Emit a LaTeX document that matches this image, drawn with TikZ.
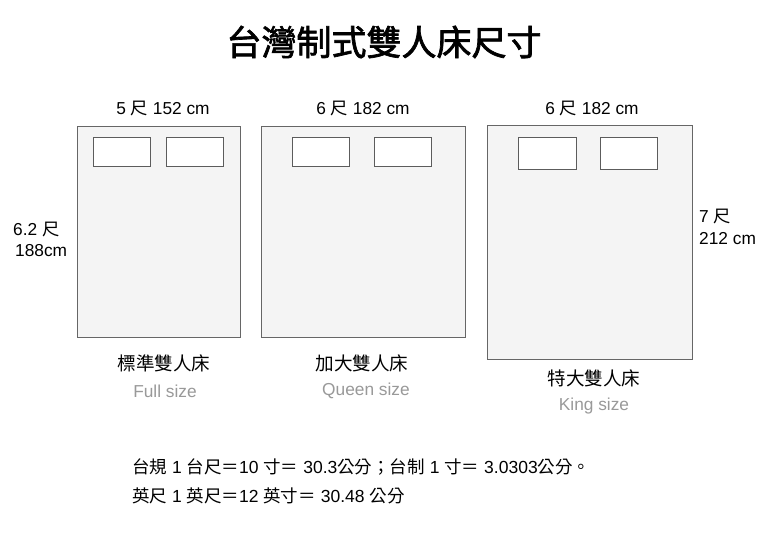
\documentclass[tikz,border=0pt]{standalone}
\usepackage{fontspec}
\setmainfont{Liberation Sans}
\newfontfamily\cjk{Noto Sans CJK TC}
\newfontfamily\cjkbold{Noto Sans CJK TC}[FakeBold=2]
\definecolor{bedfill}{HTML}{F4F4F4}
\definecolor{bedline}{HTML}{666666}
\definecolor{subgray}{HTML}{999999}
\begin{document}
\begin{tikzpicture}[x=1pt,y=-1pt,
  bed/.style={draw=bedline,fill=bedfill,line width=1pt},
  pillow/.style={draw=bedline!90!black,fill=white,line width=1pt},
  lab/.style={font=\fontsize{17.3}{19}\selectfont,inner sep=0pt},
  bedname/.style={font=\fontsize{18.6}{20}\selectfont\cjk,inner sep=0pt},
  sub/.style={font=\fontsize{17.3}{19}\selectfont,text=subgray,inner sep=0pt},
  note/.style={font=\fontsize{17.5}{20}\selectfont,inner sep=0pt,anchor=west}]
\useasboundingbox (0,0) rectangle (768,543);
\fill[white] (0,0) rectangle (768,543);
\node[inner sep=0pt] (title) at (384,42) {\cjkbold\fontsize{35}{38}\selectfont 台灣制式雙人床尺寸};
% bed 1
\draw[bed] (77,126) rectangle (240,337);
\draw[pillow] (93,137) rectangle (150,166);
\draw[pillow] (166,137) rectangle (223,166);
\node[lab] (w1) at (163,109) {5 {\cjk 尺} 152 cm};
\node[lab,anchor=west] (h1a) at (13,230) {6.2 {\cjk 尺}};
\node[lab,anchor=west] (h1b) at (15,251) {188cm};
\node[bedname] (n1) at (164,363) {標準雙人床};
\node[sub] (s1) at (165,391) {Full size};
% bed 2
\draw[bed] (261,126) rectangle (465,337);
\draw[pillow] (292,137) rectangle (349,166);
\draw[pillow] (374,137) rectangle (431,166);
\node[lab] (w2) at (363,109) {6 {\cjk 尺} 182 cm};
\node[bedname] (n2) at (362,363) {加大雙人床};
\node[sub] (s2) at (366,391) {Queen size};
% bed 3
\draw[bed] (487,125) rectangle (692,359);
\draw[pillow] (518,137) rectangle (576,169);
\draw[pillow] (600,137) rectangle (657,169);
\node[lab] (w3) at (592,109) {6 {\cjk 尺} 182 cm};
\node[lab,anchor=west] (h3a) at (699,217) {7 {\cjk 尺}};
\node[lab,anchor=west] (h3b) at (699,239) {212 cm};
\node[bedname] (n3) at (594,378) {特大雙人床};
\node[sub] (s3) at (594,406) {King size};
% notes
\node[note] (l1) at (132,467) {{\cjk 台規} 1 {\cjk 台尺＝}10 {\cjk 寸＝} 30.3{\cjk 公分；台制} 1 {\cjk 寸＝} 3.0303{\cjk 公分。}};
\node[note] (l2) at (132,496) {{\cjk 英尺} 1 {\cjk 英尺＝}12 {\cjk 英寸＝} 30.48 {\cjk 公分}};
\end{tikzpicture}
\end{document}
